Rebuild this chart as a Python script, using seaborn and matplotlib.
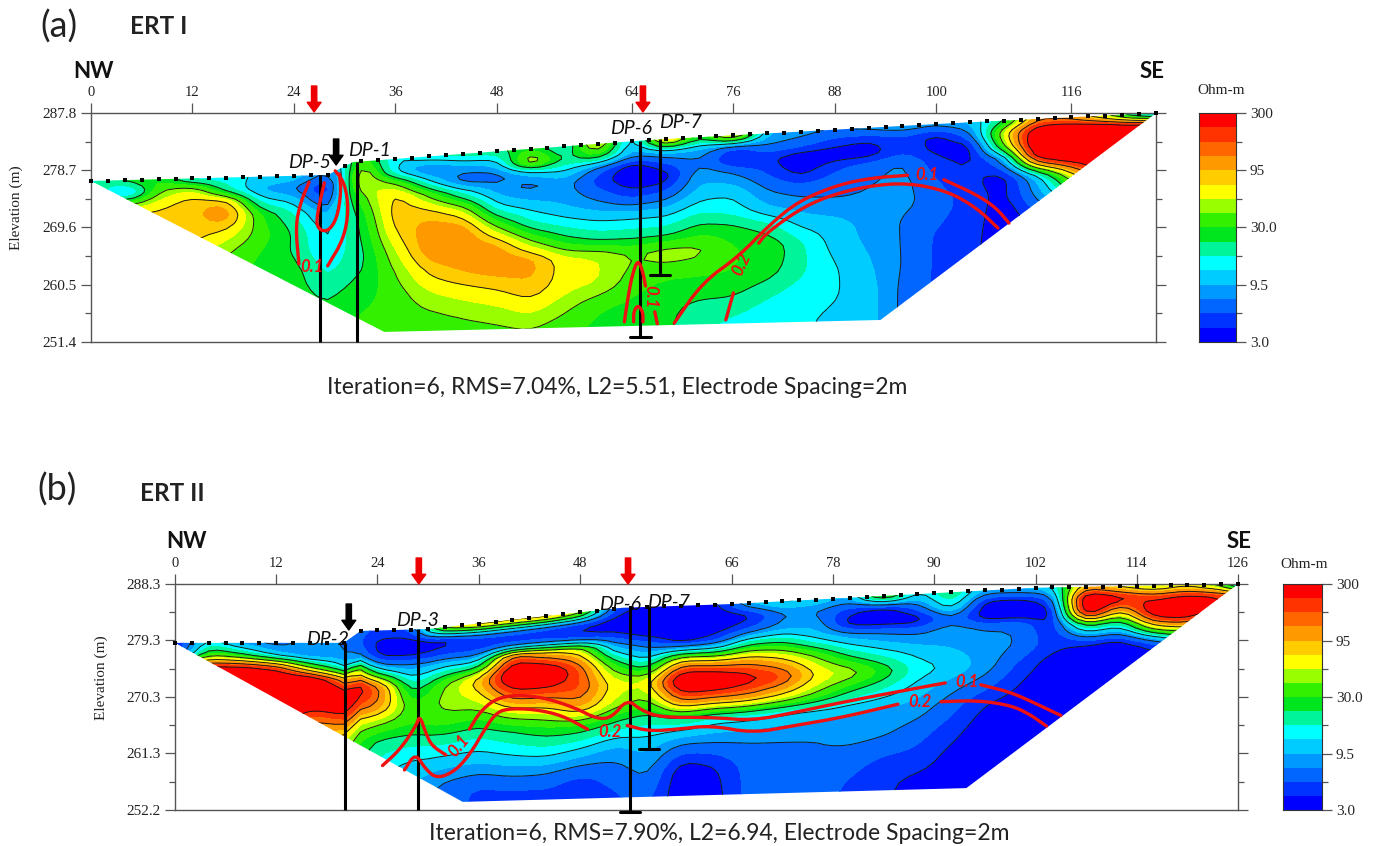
import numpy as np
import matplotlib
matplotlib.use('Agg')
import matplotlib.pyplot as plt
from matplotlib.colors import ListedColormap, BoundaryNorm
from matplotlib.patches import Polygon
import seaborn as sns

W, H = 1377, 846

# resistivity classes of the colour bar (Ohm-m)
levels = [3, 4, 5.3, 7.1, 9.5, 12.6, 16.9, 22.5, 30, 40, 53, 71, 95, 127, 169, 225, 300]
band_colors = ['#0000ff', '#0033ff', '#0066ff', '#0099ff', '#00ccff', '#00ffff', '#00f59b', '#00e61e',
               '#33f000', '#99ff00', '#ffff00', '#ffcc00', '#ff9900', '#ff6600', '#ff3300', '#ff0000']
bar_labels = ['3.0', '9.5', '30.0', '95', '300']

# grid of the sections: distance (m) and depth below the surface (m)
x_grid = [0, 4, 8, 12, 16, 20, 24, 28, 32, 36, 40, 44, 48, 52, 56, 60, 64,
          68, 72, 76, 80, 84, 88, 92, 96, 100, 104, 108, 112, 116, 120, 124, 128]
depths = [0, 2, 4, 6, 9, 12, 15, 18, 22, 26, 30, 34]

# ERT I, one line per distance, surface downwards
res_a = [
    [14, 30, 60, 82, 110, 110, 110, 110, 110, 110, 110, 110],
    [26, 8, 40, 82, 110, 110, 110, 110, 110, 110, 110, 110],
    [30, 40, 62, 82, 82, 82, 82, 82, 82, 82, 82, 82],
    [14, 60, 85, 85, 80, 62, 62, 62, 62, 62, 62, 62],
    [14, 19, 95, 130, 62, 40, 40, 40, 40, 40, 40, 40],
    [12, 9, 15, 30, 35, 30, 26, 26, 26, 26, 26, 26],
    [12, 7, 12, 17, 22, 22, 26, 26, 26, 26, 26, 26],
    [6, 3.6, 4.2, 8, 11, 12, 15, 19, 26, 26, 26, 26],
    [40, 70, 60, 35, 24, 22, 20, 22, 28, 32, 32, 32],
    [12, 12, 45, 85, 90, 70, 50, 40, 33, 33, 33, 33],
    [17, 6, 13, 35, 85, 120, 120, 80, 50, 35, 32, 32],
    [20, 9, 5.5, 14, 55, 120, 125, 105, 60, 40, 32, 32],
    [20, 10, 6, 8, 14, 40, 105, 125, 70, 45, 33, 33],
    [30, 70, 10, 6, 11, 18, 45, 115, 90, 55, 35, 33],
    [14, 20, 13, 8, 9, 14, 26, 60, 60, 42, 30, 30],
    [80, 30, 6, 4.5, 7, 12, 20, 55, 55, 30, 28, 28],
    [8, 8, 3.2, 3, 5, 12, 20, 40, 35, 28, 26, 26],
    [120, 10, 5, 3.2, 6, 12, 20, 50, 30, 24, 24, 24],
    [22, 9, 7, 9, 11, 17, 28, 45, 30, 22, 18, 18],
    [100, 4.5, 3.8, 7, 12, 15, 26, 30, 30, 22, 15, 15],
    [9, 7, 4.2, 5, 7, 10, 20, 30, 26, 17, 13, 13],
    [8, 6, 3.2, 3.2, 6, 8.5, 12, 18, 18, 14, 13, 13],
    [7, 4.5, 3.3, 5, 6.5, 7.5, 11, 11, 13, 13, 12, 12],
    [8, 4, 3.3, 6, 7, 7.5, 8.5, 9, 10, 11, 11, 11],
    [9, 5, 5, 7.5, 8, 8, 7, 7, 7, 6.5, 6.5, 6.5],
    [8, 3.5, 3.6, 4.4, 5.3, 6, 5.5, 5, 5, 5, 5, 5],
    [10, 6, 3.2, 3.6, 4.3, 4.8, 4.8, 4.7, 4.5, 4.5, 4.5, 4.5],
    [20, 60, 40, 8, 3.3, 3.5, 3.2, 3, 3, 3, 3, 3],
    [120, 400, 500, 400, 10, 8, 5, 5, 5, 5, 5, 5],
    [100, 500, 600, 500, 60, 20, 10, 10, 10, 10, 10, 10],
    [40, 500, 600, 500, 300, 100, 50, 50, 50, 50, 50, 50],
    [10, 400, 500, 500, 500, 500, 500, 500, 500, 500, 500, 500],
    [5, 400, 500, 500, 500, 500, 500, 500, 500, 500, 500, 500],
]

# ERT II
res_b = [
    [3.5, 3.5, 300, 500, 500, 500, 500, 500, 500, 500, 500, 500],
    [15, 40, 300, 500, 500, 500, 500, 500, 500, 500, 500, 500],
    [8, 25, 300, 500, 500, 500, 500, 500, 500, 500, 500, 500],
    [6, 11, 200, 500, 500, 500, 500, 500, 500, 500, 500, 500],
    [8, 7, 40, 500, 500, 120, 100, 100, 100, 100, 100, 100],
    [7, 8, 14, 120, 500, 200, 60, 40, 40, 40, 40, 40],
    [5, 3.5, 3.6, 9, 170, 130, 40, 20, 14, 14, 14, 14],
    [5, 3.5, 3.6, 8, 16, 30, 30, 18, 11, 9, 9, 9],
    [60, 3.5, 4.5, 11, 40, 45, 35, 19, 10, 6, 6, 6],
    [100, 5, 4.5, 10, 90, 55, 30, 17, 10, 5, 5, 5],
    [90, 5, 5, 200, 500, 170, 50, 22, 12, 6, 4, 4],
    [100, 4.5, 5, 90, 500, 190, 60, 28, 14, 6, 4.5, 4.5],
    [60, 4, 4, 60, 170, 190, 110, 30, 12, 5, 4.5, 4.5],
    [5, 3.5, 4, 8, 30, 60, 50, 24, 9, 6, 5, 5],
    [3.5, 3.2, 3.2, 6, 14, 60, 35, 18, 11, 8, 6, 6],
    [3.5, 3.2, 3.2, 3.6, 100, 500, 150, 22, 7, 3.2, 3, 3],
    [3.5, 3.2, 3.4, 5, 80, 500, 120, 15, 7, 3.8, 3.5, 3.5],
    [10, 3.5, 5, 15, 100, 300, 110, 14, 7, 6, 6, 6],
    [14, 7, 8, 18, 70, 200, 70, 12, 7, 6.5, 6, 6],
    [12, 7, 9, 11, 40, 70, 40, 11, 7, 7, 6, 6],
    [9, 4.5, 3.2, 8, 20, 53, 22, 10, 8, 6, 5, 5],
    [50, 3.3, 3.2, 7, 14, 30, 16, 9, 7.5, 5, 4.2, 4.2],
    [11, 6, 3.2, 6.5, 11, 15, 11, 8.5, 6, 4.8, 3.6, 3.6],
    [25, 18, 7, 8, 9.5, 12, 8, 6, 4.5, 3.6, 3.4, 3.4],
    [9, 3.4, 3.1, 7, 8.5, 8.5, 6, 4, 3.3, 3.2, 3, 3],
    [10, 3.3, 3.1, 7, 7, 5, 4, 3.5, 3.2, 3.2, 3, 3],
    [12, 5, 3.1, 3.8, 4.5, 3.4, 3.2, 3.2, 3, 3, 3, 3],
    [100, 600, 500, 30, 3.8, 3.2, 3.2, 3, 3, 3, 3, 3],
    [60, 300, 60, 15, 3.2, 3.2, 3, 3, 3, 3, 3, 3],
    [40, 200, 400, 120, 5, 3, 3, 3, 3, 3, 3, 3],
    [60, 300, 500, 150, 10, 3, 3, 3, 3, 3, 3, 3],
    [30, 250, 200, 30, 10, 3, 3, 3, 3, 3, 3, 3],
    [3, 150, 100, 30, 10, 3, 3, 3, 3, 3, 3, 3],
]

# ground surface and lower edge of the model
surf_x_a = [0, 28, 31, 66, 100, 126]
surf_z_a = [277.0, 277.95, 280.0, 283.5, 286.05, 287.8]
base_x_a = [34.7, 93.4]
base_z_a = [253.0, 254.9]
surf_x_b = [0, 20, 22, 30, 53, 66, 102, 126]
surf_z_b = [278.9, 278.9, 280.8, 281.1, 284.5, 285.1, 287.7, 288.3]
base_x_b = [34.1, 93.8]
base_z_b = [253.5, 255.7]

ticks_a = [0, 12, 24, 36, 48, 64, 76, 88, 100, 116]
ticks_b = [0, 12, 24, 36, 48, 66, 78, 90, 102, 114, 126]
elev_a = [251.4, 260.5, 269.6, 278.7, 287.8]
elev_b = [252.2, 261.3, 270.3, 279.3, 288.3]

# boreholes: distance, top, bottom
bores_a = [(27.1, 278.0, 251.4), (31.5, 280.0, 251.4), (65.0, 283.4, 252.2), (67.3, 283.6, 262.0)]
bores_b = [(20.1, 278.9, 252.2), (28.8, 281.1, 252.2), (53.9, 284.5, 251.9), (56.2, 284.6, 262.0)]
caps_a = [False, False, True, True]
caps_b = [False, False, True, True]

# red iso-lines of the other survey, each piece as (distance, elevation)
red_a = [
    ([24.6, 24.2, 24.8, 25.8], [263.8, 269.8, 273.6, 276.8]),
    ([28.0, 29.9, 30.5, 30.0, 28.9], [263.5, 267.8, 272.5, 276.7, 278.6]),
    ([27.6, 26.7, 26.8, 28.0, 29.1, 29.6, 29.4], [276.7, 271.4, 269.4, 268.9, 271.0, 275.2, 278.1]),
    ([63.1, 63.5, 64.0, 64.7, 65.3, 65.6], [254.6, 258.2, 261.9, 264.6, 262.5, 260.3]),
    ([66.7, 67.0], [256.2, 254.3]),
    ([64.2, 64.2, 64.7, 65.3, 65.3], [254.6, 256.2, 257.3, 256.2, 254.6]),
    ([69.0, 72.3, 76.7, 80.1, 83.7, 88.4, 92.5, 96.6], [254.4, 260.8, 265.1, 269.8, 273.8, 276.4, 277.5, 277.9]),
    ([100.9, 104.8, 107.1, 108.6], [277.2, 274.8, 272.7, 270.3]),
    ([75.1, 76.0], [254.9, 259.2]),
    ([79.0, 79.9, 83.7, 87.2, 91.9, 96.6, 101.3, 104.8, 107.3],
     [267.1, 268.7, 272.4, 274.6, 276.2, 276.7, 275.4, 272.7, 269.5]),
]
red_b = [
    ([24.6, 26.7, 28.6, 29.0, 29.7, 30.4, 32.1], [259.3, 261.9, 265.7, 267.3, 264.6, 262.5, 261.0]),
    ([34.9, 36.1, 37.9, 40.3, 43.6, 47.3, 50.1, 51.8, 53.6, 55.3, 57.6, 63.5, 68.5, 73.5, 79.1, 84.1, 88.5, 91.3],
     [265.1, 267.8, 269.9, 270.6, 270.2, 268.6, 266.7, 267.0, 269.9, 268.1, 267.0, 267.0, 266.5, 267.8, 269.4,
      270.7, 271.8, 272.5]),
    ([95.5, 99.1, 102.5, 105.0], [272.2, 271.0, 268.9, 267.3]),
    ([27.2, 28.5, 29.7, 31.1, 33.3, 35.1, 36.5, 37.9, 39.3, 42.6, 45.9, 48.9],
     [258.6, 261.3, 258.7, 257.2, 258.5, 261.4, 264.6, 267.5, 268.4, 268.3, 267.3, 265.1]),
    ([53.6, 56.2, 59.5, 63.5, 68.5, 73.5, 79.1, 85.7], [265.7, 264.8, 265.1, 265.7, 264.5, 265.7, 267.0, 269.1]),
    ([90.8, 95.2, 99.1, 101.3, 103.3], [269.5, 269.7, 268.9, 267.5, 265.6]),
]

sns.set_style('white')
serif = 'Liberation Serif'
sans = 'Lato'
grey = '#555555'

fig = plt.figure(figsize=(W / 100, H / 100), dpi=100)


def px_axes(left, top, right, bottom):
    return fig.add_axes([left / W, 1 - bottom / H, (right - left) / W, (bottom - top) / H])


def px_text(x, y, s, **kw):
    kw.setdefault('ha', 'center')
    kw.setdefault('va', 'center')
    fig.text(x / W, 1 - y / H, s, **kw)


def soften(field):
    # rounds the corners of the contour polygons, only for drawing
    n = 4
    rows, cols = field.shape
    col_pos = np.linspace(0, cols - 1, (cols - 1) * n + 1)
    row_pos = np.linspace(0, rows - 1, (rows - 1) * n + 1)
    f = np.array([np.interp(col_pos, np.arange(cols), r) for r in field])
    f = np.array([np.interp(row_pos, np.arange(rows), c) for c in f.T]).T
    kernel = np.array([1, 4, 6, 4, 1]) / 16
    p = np.pad(f, 2, mode='edge')
    p = np.apply_along_axis(lambda m: np.convolve(m, kernel, mode='same'), 0, p)
    p = np.apply_along_axis(lambda m: np.convolve(m, kernel, mode='same'), 1, p)
    return p[2:-2, 2:-2], col_pos, row_pos


def round_line(px, py):
    # corner cutting so the hand-traced red pieces are not angular
    px, py = np.array(px, dtype=float), np.array(py, dtype=float)
    for _ in range(2):
        qx = np.c_[0.75 * px[:-1] + 0.25 * px[1:], 0.25 * px[:-1] + 0.75 * px[1:]].ravel()
        qy = np.c_[0.75 * py[:-1] + 0.25 * py[1:], 0.25 * py[:-1] + 0.75 * py[1:]].ravel()
        px = np.r_[px[0], qx, px[-1]]
        py = np.r_[py[0], qy, py[-1]]
    return px, py


def draw_section(ax, res, surf_x, surf_z, base_x, base_z, ticks, elev, bores, caps, red_lines):
    # one extra row above the surface so the clip edge is always filled
    depth = np.array([-3] + depths, dtype=float)
    vals = np.array(res, dtype=float).T
    vals = np.vstack([vals[0], vals])
    log_vals, col_pos, row_pos = soften(np.log10(vals))
    log_vals = np.clip(log_vals, np.log10(3.01), np.log10(299))
    fine_x = np.interp(col_pos, np.arange(len(x_grid)), x_grid)
    fine_d = np.interp(row_pos, np.arange(len(depth)), depth)
    X, D = np.meshgrid(fine_x, fine_d)
    Z = np.interp(fine_x, surf_x, surf_z)[None, :] - D
    log_lev = np.log10(levels)

    outline = list(zip(surf_x, surf_z)) + list(zip(base_x[::-1], base_z[::-1]))
    clip = Polygon(outline, closed=True, transform=ax.transData, fc='none', ec='none')
    ax.add_patch(clip)
    filled = ax.contourf(X, Z, log_vals, levels=log_lev, colors=band_colors)
    filled.set_clip_path(clip)
    lines = ax.contour(X, Z, log_vals, levels=log_lev[1::2], colors='#1a1a1a', linewidths=0.7)
    lines.set_clip_path(clip)

    # electrodes every 2 m
    ex = np.arange(0, 127, 2)
    sns.scatterplot(x=ex, y=np.interp(ex, surf_x, surf_z), ax=ax, color='black', s=11, marker='s',
                    linewidth=0, zorder=5, clip_on=False)

    for (bx, top, bot), cap in zip(bores, caps):
        ax.plot([bx, bx], [top, bot], color='black', lw=2.2, zorder=6, clip_on=False, solid_capstyle='butt')
        if cap:
            ax.plot([bx - 1.2, bx + 1.2], [bot, bot], color='black', lw=2.2, zorder=6, clip_on=False)

    for rx, rz in red_lines:
        sx, sz = round_line(rx, rz)
        sns.lineplot(x=sx, y=sz, ax=ax, color='#ee1111', lw=2.4, sort=False, estimator=None, zorder=7)

    ax.set_xlim(0, 126)
    ax.set_ylim(elev[0], elev[-1])
    ax.set_xlabel('')
    ax.set_ylabel('')
    ax.xaxis.tick_top()
    ax.set_xticks(ticks)
    ax.set_yticks(elev)
    ax.set_yticks([(a + b) / 2 for a, b in zip(elev[:-1], elev[1:])], minor=True)
    ax.set_yticklabels(['%.1f' % e for e in elev])
    ax.tick_params(axis='x', which='major', top=True, bottom=False, length=7, width=0.9, color=grey,
                   labelsize=10.5, pad=3, direction='out')
    ax.tick_params(axis='y', which='major', left=True, right=True, length=7, width=0.9, color=grey,
                   labelsize=11, pad=3, direction='out')
    ax.tick_params(axis='y', which='minor', left=True, right=True, length=4, width=0.9, color=grey, direction='out')
    for t in ax.get_xticklabels() + ax.get_yticklabels():
        t.set_fontfamily(serif)
        t.set_color('#222222')
    for s in ax.spines.values():
        s.set_visible(True)
        s.set_color(grey)
        s.set_linewidth(1.0)


def draw_bar(left, top, right, bottom):
    ax = px_axes(left, top, right, bottom)
    cmap = ListedColormap(band_colors)
    norm = BoundaryNorm(np.arange(17), 16)
    ax.pcolormesh([0, 1], np.arange(17), np.arange(16)[:, None], cmap=cmap, norm=norm)
    ax.set_xticks([])
    ax.set_yticks(np.arange(0, 17, 4))
    ax.set_yticks(np.arange(2, 17, 4), minor=True)
    ax.set_yticklabels(bar_labels)
    ax.yaxis.tick_right()
    ax.tick_params(axis='y', which='major', right=True, left=False, length=7, width=0.9, color=grey,
                   labelsize=11, pad=3)
    ax.tick_params(axis='y', which='minor', right=True, left=False, length=4, width=0.9, color=grey)
    for t in ax.get_yticklabels():
        t.set_fontfamily(serif)
    for s in ax.spines.values():
        s.set_color('#333333')
        s.set_linewidth(0.8)


def arrow(ax, x, y_tip_px, color):
    # x in metres of the section, y in pixels of the figure
    ax.annotate('', xy=(x, 1 - y_tip_px / H), xytext=(x, 1 - (y_tip_px - 26) / H),
                xycoords=('data', 'figure fraction'), textcoords=('data', 'figure fraction'),
                annotation_clip=False, zorder=9,
                arrowprops=dict(width=3.8, headwidth=10, headlength=7, color=color, shrink=0))


ax_a = px_axes(91, 113, 1156, 342)
draw_section(ax_a, res_a, surf_x_a, surf_z_a, base_x_a, base_z_a, ticks_a, elev_a, bores_a, caps_a, red_a)
ax_b = px_axes(175, 584, 1238, 810)
draw_section(ax_b, res_b, surf_x_b, surf_z_b, base_x_b, base_z_b, ticks_b, elev_b, bores_b, caps_b, red_b)

draw_bar(1199, 113, 1236, 342)
draw_bar(1283, 584, 1322, 810)

arrow(ax_a, 26.4, 112, '#ee0000')
arrow(ax_a, 65.3, 112, '#ee0000')
arrow(ax_a, 29.0, 165, 'black')
arrow(ax_b, 28.9, 584, '#ee0000')
arrow(ax_b, 53.7, 584, '#ee0000')
arrow(ax_b, 20.6, 630, 'black')

px_text(16, 208, 'Elevation (m)', rotation=90, fontsize=11, family=serif, color='#222222')
px_text(101, 678, 'Elevation (m)', rotation=90, fontsize=11, family=serif, color='#222222')
px_text(1221, 91, 'Ohm-m', fontsize=11, family=serif, color='#222222')
px_text(1304, 564, 'Ohm-m', fontsize=11, family=serif, color='#222222')

px_text(59, 27, '(a)', fontsize=26, family=sans, color='#222222')
px_text(57, 490, '(b)', fontsize=26, family=sans, color='#222222')
px_text(159, 26, 'ERT I', fontsize=17.5, family=sans, fontweight='bold', color='#222222')
px_text(172, 493, 'ERT II', fontsize=17.5, family=sans, fontweight='bold', color='#222222')
for x, y, s in [(93, 71, 'NW'), (1152, 71, 'SE'), (187, 541, 'NW'), (1239, 541, 'SE')]:
    px_text(x, y, s, fontsize=16, family=sans, fontweight='bold', color='#111111')

px_text(617, 387, 'Iteration=6, RMS=7.04%, L2=5.51, Electrode Spacing=2m', fontsize=16.5, family=sans, color='#222222')
px_text(719, 833, 'Iteration=6, RMS=7.90%, L2=6.94, Electrode Spacing=2m', fontsize=16.5, family=sans, color='#222222')

for x, y, s in [(309, 163, 'DP-5'), (369, 150, 'DP-1'), (631, 128, 'DP-6'), (680, 122, 'DP-7'),
                (327, 639, 'DP-2'), (417, 620, 'DP-3'), (620, 604, 'DP-6'), (668, 603, 'DP-7')]:
    px_text(x, y, s, fontsize=14, family=sans, style='italic', color='#111111', zorder=10)

red_kw = dict(family=sans, style='italic', color='#ee1111', fontweight='bold', fontsize=12, zorder=10)
for x, y, s, rot in [(312, 267, '0.1', 0), (650, 297, '0.1', -90), (742, 264, '0.2', 65), (927, 175, '0.1', 0),
                     (459, 746, '0.1', 50), (610, 732, '0.2', 0), (967, 682, '0.1', 0), (920, 702, '0.2', 0)]:
    px_text(x, y, s, rotation=rot, **red_kw)

fig.savefig('out.png', dpi=100)
